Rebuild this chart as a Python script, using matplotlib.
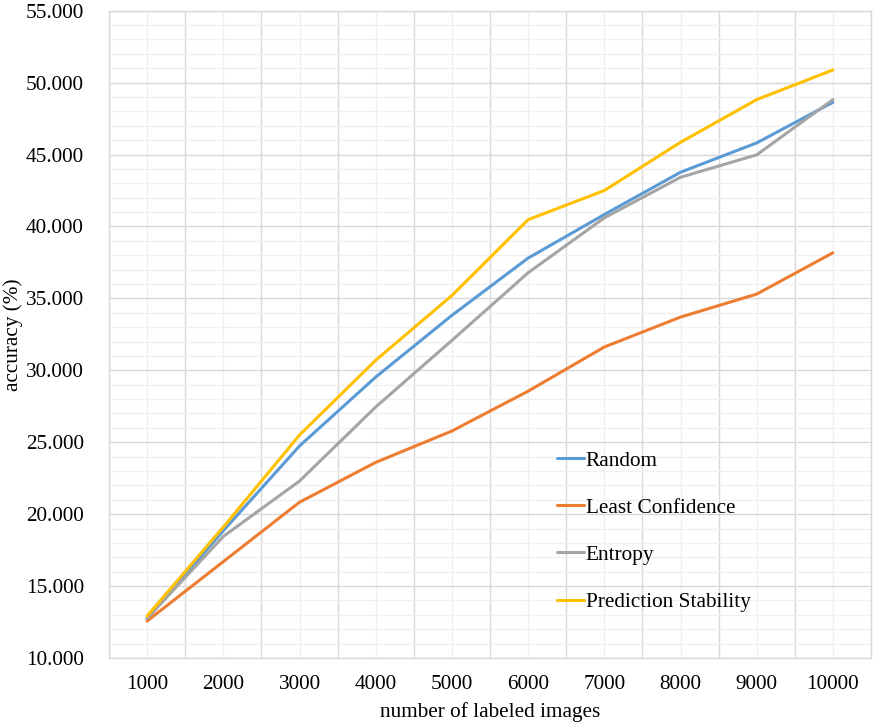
import numpy as np
import matplotlib
matplotlib.use("Agg")
import matplotlib.pyplot as plt
from matplotlib.ticker import MultipleLocator, FormatStrFormatter

plt.rcParams['font.family'] = ['Liberation Serif', 'DejaVu Serif']

# data
labeled = ["1000", "2000", "3000", "4000", "5000", "6000", "7000", "8000", "9000", "10000"]
random_acc = [12.75, 18.85, 24.74, 29.53, 33.82, 37.80, 40.83, 43.77, 45.81, 48.63]
least_conf = [12.57, 16.70, 20.83, 23.60, 25.78, 28.55, 31.62, 33.70, 35.30, 38.17]
entropy = [12.75, 18.45, 22.30, 27.45, 32.08, 36.78, 40.60, 43.42, 44.98, 48.82]
pred_stab = [12.92, 19.10, 25.50, 30.70, 35.20, 40.47, 42.50, 45.85, 48.82, 50.88]

series = [
    ("Random", random_acc, "#5B9BD5"),
    ("Least Confidence", least_conf, "#ED7D31"),
    ("Entropy", entropy, "#A5A5A5"),
    ("Prediction Stability", pred_stab, "#FFC000"),
]

fs = 15.3

fig = plt.figure(figsize=(8.77, 7.28), dpi=100)
ax = fig.add_axes([109/877, 70/728, 762/877, 647.3/728])

x = np.arange(len(labeled))
for name, vals, col in series:
    ax.plot(x, vals, color=col, lw=2.2, label=name, solid_capstyle="round")

ax.set_xlim(-0.5, len(labeled) - 0.5)
ax.set_ylim(10, 55)
ax.set_xticks(x)
ax.set_xticklabels(labeled)
ax.xaxis.set_minor_locator(MultipleLocator(1, offset=0.5))
ax.yaxis.set_major_locator(MultipleLocator(5))
ax.yaxis.set_minor_locator(MultipleLocator(1))
ax.yaxis.set_major_formatter(FormatStrFormatter("%.3f"))

ax.grid(True, axis="y", which="major", color="#d9d9d9", lw=1)
ax.grid(True, axis="y", which="minor", color="#f0f0f0", lw=1)
ax.grid(True, axis="x", which="minor", color="#d9d9d9", lw=1)
ax.grid(True, axis="x", which="major", color="#f0f0f0", lw=1)
ax.set_axisbelow(True)

ax.tick_params(which="both", length=0, labelsize=fs)
ax.tick_params(axis="y", pad=18)
ax.tick_params(axis="x", pad=12)
for s in ax.spines.values():
    s.set_color("#d9d9d9")
    s.set_linewidth(1)

ax.set_ylabel("accuracy (%)", fontsize=fs)
ax.yaxis.set_label_coords(-0.113, 0.5)
ax.set_xlabel("number of labeled images", fontsize=fs)
ax.xaxis.set_label_coords(0.5, -0.068)

ax.legend(loc="upper left", bbox_to_anchor=(0.588, 0.320), frameon=False,
          fontsize=fs, handlelength=1.25, handletextpad=0.1,
          labelspacing=1.28, borderaxespad=0, borderpad=0)

fig.savefig("out.png", dpi=100)
